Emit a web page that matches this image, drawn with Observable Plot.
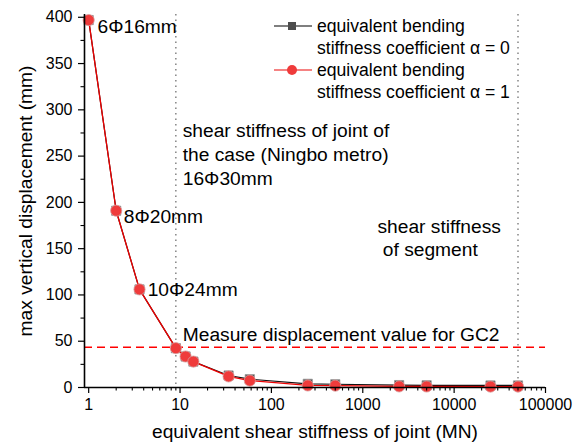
<!DOCTYPE html>
<html>
<head>
<meta charset="utf-8">
<script src="https://cdn.jsdelivr.net/npm/d3@7"></script>
<script src="https://cdn.jsdelivr.net/npm/@observablehq/plot@0.6"></script>
<style>
  html, body { margin: 0; padding: 0; background: #fff; }
  #chart { position: relative; width: 580px; height: 445px; font-family: "Liberation Sans", Arial, sans-serif; }
  svg { font-family: "Liberation Sans", Arial, sans-serif; }
</style>
</head>
<body>
<div id="chart"></div>
<script>
// ---- data ----
const stiffness = [1, 2, 3.6, 9, 11.5, 14, 34, 58, 250, 500, 2500, 5000, 25000, 50000];
const dispAlpha0 = [397, 191, 106, 42.5, 33.5, 28, 13, 9, 4, 3.5, 2.6, 2.4, 2.2, 2.2];
const dispAlpha1 = [397, 191, 106, 42.5, 33.5, 28, 12, 7.5, 2.2, 2, 1.2, 1.1, 1, 1];
const seriesNames = ["equivalent bending\nstiffness coefficient α = 0", "equivalent bending\nstiffness coefficient α = 1"];
const xMajorTicks = [1, 10, 100, 1000, 10000, 100000];
const yMajorTicks = [0, 50, 100, 150, 200, 250, 300, 350, 400];
const yMinorTicks = [25, 75, 125, 175, 225, 275, 325, 375];
const xDomain = [0.9, 100000];
const yDomain = [0, 403];
const refStiffness = [9, 50000];       // joint of Ningbo metro case, segment
const measuredDisp = [43.5];            // measured displacement GC2
const annotations = [
  {x: 1.25, y: 391, text: "6Φ16mm"},
  {x: 2.42, y: 186, text: "8Φ20mm"},
  {x: 4.42, y: 107, text: "10Φ24mm"},
  {x: 10.7, y: 253, text: "shear stiffness of joint of\nthe case (Ningbo metro)\n16Φ30mm"},
  {x: 1450, y: 162.5, text: "shear stiffness\n of segment"},
  {x: 10.7, y: 58, text: "Measure displacement value for GC2"}
];

// minor log ticks
const xMinorTicks = [];
for (let d = 1; d < 100000; d *= 10) for (let k = 2; k <= 9; k++) xMinorTicks.push(d * k);

const rows0 = stiffness.map((x, i) => ({x, y: dispAlpha0[i]}));
const rows1 = stiffness.map((x, i) => ({x, y: dispAlpha1[i]}));

const font = "Liberation Sans, Arial, sans-serif";

const plot = Plot.plot({
  width: 580,
  height: 445,
  marginLeft: 84,
  marginRight: 35,
  marginTop: 14,
  marginBottom: 58,
  style: {fontFamily: font, background: "white", color: "black"},
  x: {type: "log", domain: xDomain},
  y: {domain: yDomain},
  marks: [
    Plot.ruleX(refStiffness, {stroke: "#666", strokeWidth: 1.2, strokeDasharray: "1.5,4"}),
    Plot.ruleY(measuredDisp, {stroke: "#ff0000", strokeWidth: 1.5, strokeDasharray: "8,5"}),
    Plot.line(rows0, {x: "x", y: "y", stroke: "#111", strokeWidth: 1.2}),
    Plot.dot(rows0, {x: "x", y: "y", symbol: "square", r: 5.2, fill: "#4d4d4d", stroke: "#999", strokeWidth: 0.8}),
    Plot.line(rows1, {x: "x", y: "y", stroke: "#ee0000", strokeWidth: 1.3}),
    Plot.dot(rows1, {x: "x", y: "y", r: 5.6, fill: "#ef3b3b", stroke: "#d9a0a0", strokeWidth: 0.8}),
    Plot.ruleY([yDomain[0]], {stroke: "black", strokeWidth: 1.6}),
    Plot.ruleX([xDomain[0]], {stroke: "black", strokeWidth: 1.6}),
    Plot.axisX(xMajorTicks, {tickSize: 6, tickPadding: 5, tickFormat: d => String(d), fontSize: 16, label: null, strokeWidth: 1.2}),
    Plot.axisX(xMinorTicks, {tickSize: 3.5, tickFormat: () => "", label: null, strokeWidth: 1.1}),
    Plot.axisY(yMajorTicks, {tickSize: 6, tickPadding: 6, fontSize: 16, label: null, strokeWidth: 1.2}),
    Plot.axisY(yMinorTicks, {tickSize: 3.5, tickFormat: () => "", label: null, strokeWidth: 1.1}),
    Plot.text(annotations, {x: "x", y: "y", text: "text", textAnchor: "start", fontSize: 19.2, lineHeight: 1.23, fill: "black"}),
    Plot.text(["max vertical displacement (mm)"], {frameAnchor: "left", textAnchor: "middle", rotate: -90, dx: -59, fontSize: 19.2, fill: "black"}),
    Plot.text(["equivalent shear stiffness of joint (MN)"], {frameAnchor: "bottom", textAnchor: "middle", dy: 50, fontSize: 19.2, fill: "black"})
  ]
});

document.getElementById("chart").appendChild(plot);

// legend (inside the plot area, top right)
const svg = d3.select(plot);
const lg = svg.append("g").attr("font-family", font).attr("font-size", 17.6).attr("text-anchor", "start");
const legendItems = [
  {name: seriesNames[0], line: "#555", sym: "square", fill: "#4d4d4d", cy: 26},
  {name: seriesNames[1], line: "#f25a5a", sym: "circle", fill: "#ef3b3b", cy: 70}
];
legendItems.forEach(it => {
  lg.append("line").attr("x1", 274).attr("x2", 312).attr("y1", it.cy).attr("y2", it.cy)
    .attr("stroke", it.line).attr("stroke-width", 1.5);
  if (it.sym === "square") {
    lg.append("rect").attr("x", 288).attr("y", it.cy - 4).attr("width", 8).attr("height", 8).attr("fill", it.fill);
  } else {
    lg.append("circle").attr("cx", 292).attr("cy", it.cy).attr("r", 5).attr("fill", it.fill);
  }
  const lines = it.name.split("\n");
  lines.forEach((t, j) => {
    lg.append("text").attr("x", 317).attr("y", it.cy + j * 22).attr("dy", "0.35em")
      .attr("text-anchor", "start").attr("fill", "black").text(t);
  });
});
</script>
</body>
</html>
